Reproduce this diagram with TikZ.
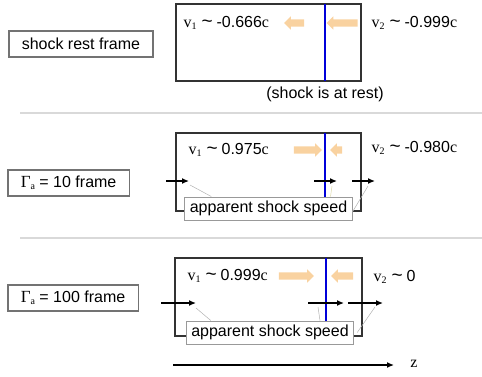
\documentclass[tikz,border=0pt]{standalone}
\usepackage{fontspec}
\setmainfont{Liberation Sans}
\newfontfamily\timesf{Liberation Serif}
\usepackage{tikz}
\usetikzlibrary{arrows.meta,shapes.arrows}

\definecolor{flowc}{RGB}{249,210,160}
\newcommand{\vsub}[1]{{\timesf v\raisebox{-2pt}{\fontsize{10}{10}\selectfont #1}}}
\newcommand{\Gsub}{{\timesf\fontsize{17}{18}\selectfont \char"0393\raisebox{-2pt}{\fontsize{10}{10}\selectfont a}}}
\newcommand{\tld}{\hspace{5pt}{\fontsize{19}{18}\selectfont\textasciitilde}\hspace{4pt}}

\tikzset{
  tag/.style={draw=black!55, line width=1.5pt, fill=white, inner xsep=13pt, minimum height=26pt, anchor=west},
  speedtag/.style={draw=black!40, line width=1pt, fill=white, inner xsep=5pt, minimum height=23pt},
  frame/.style={draw=black!80, line width=1.2pt},
  shock/.style={draw=blue!85!black, line width=1.2pt},
  flow/.style={single arrow, fill=flowc, draw=none, inner xsep=0pt, inner ysep=3.5pt, single arrow head extend=3pt, single arrow head indent=0pt},
  move/.style={line width=1.3pt, -{Latex[length=7pt,width=6pt]}},
  lead/.style={draw=black!30, line width=0.5pt},
  sep/.style={draw=black!15, line width=2pt}
}

\begin{document}
\begin{tikzpicture}[x=1pt, y=-1pt, font=\fontsize{16}{18}\selectfont]
\useasboundingbox (0,0) rectangle (482,376);

\node[tag] (restlab) at (8,44) {shock rest frame};
\draw[frame] (176,4) rectangle (361,81);
\draw[shock] (325,4) -- (325,81);
\node[anchor=west] (restv1) at (180,23) {\vsub{1}\tld-0.666{\timesf c}};
\node[anchor=west] (restv2) at (368,23) {\vsub{2}\tld-0.999{\timesf c}};
\node[flow, minimum height=20pt, shape border rotate=180] (restup) at (296,23) {};
\node[flow, minimum height=31pt, shape border rotate=180] (restdown) at (344,23) {};
\node (restnote) at (325,94) {(shock is at rest)};
\draw[sep] (20,113) -- (482,113);

\node[tag] (tenlab) at (7,183) {\Gsub{} = 10 frame};
\draw[frame] (176,133) rectangle (361,211);
\node[speedtag] (tenspd) at (268.5,208.5) {apparent shock speed};
\draw[shock] (325,133) -- (325,133 |- tenspd.north);
\node[anchor=west] (tenv1) at (185,150) {\vsub{1}\tld0.975{\timesf c}};
\node[anchor=west] (tenv2) at (368,148) {\vsub{2}\tld-0.980{\timesf c}};
\node[flow, minimum height=28pt] (tenup) at (306,150) {};
\node[flow, minimum height=12pt, shape border rotate=180] (tendown) at (338,150) {};
\draw[move] (166,181) -- (189,181);
\draw[move] (314,181) -- (337,181);
\draw[move] (352,181) -- (375,181);
\draw[lead] (tenspd.north west) ++(27,0) -- (190,185);
\draw[lead, draw=yellow!60!black!40] (tenspd.north) ++(62,0) -- (332,186);
\draw[lead] (tenspd.east) ++(0,3) -- (368,186);
\draw[sep] (20,238) -- (482,238);

\node[tag] (hunlab) at (7,298) {\Gsub{} = 100 frame};
\draw[frame] (175,258) rectangle (362,336);
\node[speedtag] (hunspd) at (270,332.5) {apparent shock speed};
\draw[shock] (326,258) -- (326,258 |- hunspd.north);
\node[anchor=west] (hunv1) at (184,276) {\vsub{1}\tld0.999{\timesf c}};
\node[anchor=west] (hunv2) at (370,277) {\vsub{2}\tld0};
\node[flow, minimum height=35pt] (hunup) at (294.5,276) {};
\node[flow, minimum height=22pt, shape border rotate=180] (hundown) at (344,276) {};
\draw[move] (161,303) -- (196,303);
\draw[move] (308,303) -- (344,303);
\draw[move] (348,303) -- (383,303);
\draw[lead] (hunspd.north west) ++(25,0) -- (196,308);
\draw[lead] (hunspd.north) ++(50,0) -- (318,307);
\draw[lead] (hunspd.east) ++(3,0) -- (375,307);

\draw[move] (173,365) -- (394,365);
\node (zlab) at (414,364) {\timesf z};
\end{tikzpicture}
\end{document}
